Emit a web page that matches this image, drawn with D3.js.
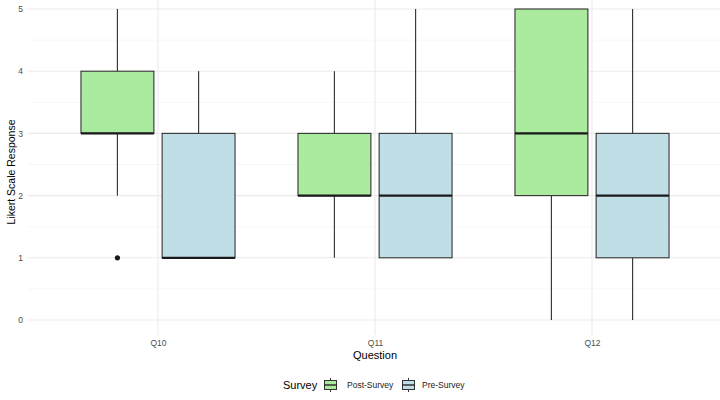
<!DOCTYPE html>
<html><head><meta charset="utf-8">
<script src="https://cdn.jsdelivr.net/npm/d3@7"></script>
<style>body{margin:0;background:#fff}svg{display:block;font-family:"Liberation Sans",Arial,sans-serif}</style>
</head><body><svg id="c" width="720" height="400"></svg>
<script>
const questions = ["Q10","Q11","Q12"];
const surveys = ["Post-Survey","Pre-Survey"];
const colors = ["#abeb9f","#bfdee6"];
// [lowerWhisker, q1, median, q3, upperWhisker] per question
const postStats = [[2,3,3,4,5],[1,2,2,3,4],[0,2,3,5,5]];
const preStats  = [[1,1,1,3,4],[1,1,2,3,5],[0,1,2,3,5]];
const postOutliers = [[1],[],[]];
const preOutliers = [[],[],[]];
const yTicks = [0,1,2,3,4,5];

const svg = d3.select("#c");
const pLeft = 28, pRight = 720, pTop = 9, pBottom = 320, panelBottom = 335;
const x = d3.scalePoint().domain(questions).range([158, 592]);
const step = x.step();
const y = d3.scaleLinear().domain([0,5]).range([pBottom, pTop]);

// grid
const g = svg.append("g");
d3.range(0.5, 5, 1).forEach(v => g.append("line").attr("x1",pLeft).attr("x2",pRight)
  .attr("y1",y(v)).attr("y2",y(v)).attr("stroke","#f2f2f2").attr("stroke-width",0.6));
yTicks.forEach(v => g.append("line").attr("x1",pLeft).attr("x2",pRight)
  .attr("y1",y(v)).attr("y2",y(v)).attr("stroke","#ebebeb").attr("stroke-width",1.1));
questions.forEach(q => g.append("line").attr("x1",x(q)).attr("x2",x(q))
  .attr("y1",0).attr("y2",panelBottom).attr("stroke","#ebebeb").attr("stroke-width",1.1));

// axes labels
const yAxis = d3.axisLeft(y).tickValues(yTicks).tickSize(0).tickPadding(0).tickFormat(d3.format("d"));
const ya = svg.append("g").attr("transform","translate(23,0)").call(yAxis);
ya.select(".domain").remove();
ya.selectAll("text").attr("fill","#4d4d4d").style("font-size","8.5px").attr("dy","0.32em");
const xAxis = d3.axisBottom(x).tickSize(0).tickPadding(0);
const xa = svg.append("g").attr("transform","translate(0,340)").call(xAxis);
xa.select(".domain").remove();
xa.selectAll("text").attr("fill","#4d4d4d").style("font-size","8.5px").attr("dy","0.71em");

svg.append("text").attr("x",375).attr("y",359).attr("text-anchor","middle")
  .style("font-size","11px").attr("fill","#000").text("Question");
svg.append("text").attr("transform","translate(14.5,172) rotate(-90)").attr("text-anchor","middle")
  .style("font-size","10.5px").attr("fill","#000").text("Likert Scale Response");

// boxes
const offset = step * 0.187, bw = step * 0.336;
function drawBox(cx, s, fill, outs) {
  const [lw,q1,med,q3,uw] = s;
  const b = svg.append("g");
  b.append("line").attr("x1",cx).attr("x2",cx).attr("y1",y(q3)).attr("y2",y(uw))
    .attr("stroke","#3a3a3a").attr("stroke-width",1.2);
  b.append("line").attr("x1",cx).attr("x2",cx).attr("y1",y(q1)).attr("y2",y(lw))
    .attr("stroke","#3a3a3a").attr("stroke-width",1.2);
  b.append("rect").attr("x",cx-bw/2).attr("y",y(q3)).attr("width",bw).attr("height",y(q1)-y(q3))
    .attr("fill",fill).attr("stroke","#333").attr("stroke-width",1.1);
  b.append("line").attr("x1",cx-bw/2).attr("x2",cx+bw/2).attr("y1",y(med)).attr("y2",y(med))
    .attr("stroke","#1a1a1a").attr("stroke-width",2.2);
  outs.forEach(o => b.append("circle").attr("cx",cx).attr("cy",y(o)).attr("r",2.6).attr("fill","#1a1a1a"));
}
questions.forEach((q,i) => {
  drawBox(x(q)-offset, postStats[i], colors[0], postOutliers[i]);
  drawBox(x(q)+offset, preStats[i], colors[1], preOutliers[i]);
});

// legend
const lg = svg.append("g");
lg.append("text").attr("x",283).attr("y",389).style("font-size","11px").attr("fill","#000").text("Survey");
const keyX = [324, 402], labX = [347, 422];
surveys.forEach((s,i) => {
  const kx = keyX[i];
  lg.append("line").attr("x1",kx+6.5).attr("x2",kx+6.5).attr("y1",378).attr("y2",392).attr("stroke","#333").attr("stroke-width",1);
  lg.append("rect").attr("x",kx+0.5).attr("y",380.5).attr("width",12).attr("height",9)
    .attr("fill",colors[i]).attr("stroke","#333").attr("stroke-width",1);
  lg.append("line").attr("x1",kx+0.5).attr("x2",kx+12.5).attr("y1",385).attr("y2",385).attr("stroke","#1a1a1a").attr("stroke-width",1.3);
  lg.append("text").attr("x",labX[i]).attr("y",388).style("font-size","8.5px").attr("fill","#1a1a1a").text(s);
});
</script></body></html>
